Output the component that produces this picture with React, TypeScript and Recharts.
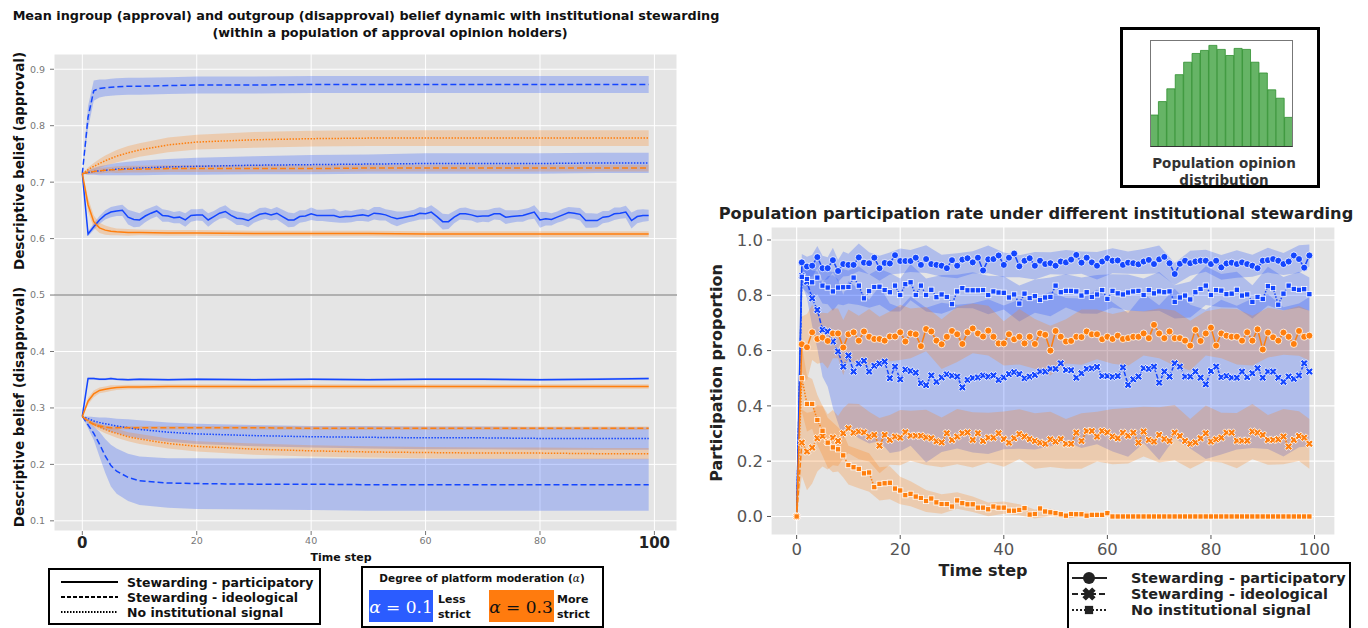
import React from 'react';
import { ComposedChart, Line, Area, XAxis, YAxis, CartesianGrid, ReferenceLine, BarChart, Bar } from 'recharts';

const BLUE = '#1446ff';
const ORANGE = '#ff7f0e';
const FONT = '"DejaVu Sans", Verdana, sans-serif';

// ---------- left panel: sampled time steps for the smooth curves ----------
const LEFT_STEPS = [0, 1, 2, 3, 4, 5, 6, 8, 10, 15, 20, 30, 40, 50, 60, 70, 80, 90, 99];

const APP_IDEO_BLUE = [0.715, 0.815, 0.862, 0.866, 0.867, 0.868, 0.869, 0.870, 0.870, 0.871, 0.872, 0.872, 0.873, 0.873, 0.873, 0.873, 0.873, 0.873, 0.873];
const APP_IDEO_BLUE_CI = [0, 0.02, 0.018, 0.016, 0.015, 0.015, 0.015, 0.015, 0.015, 0.015, 0.015, 0.015, 0.015, 0.015, 0.015, 0.015, 0.015, 0.015, 0.015];
const APP_NONE_ORANGE = [0.715, 0.722, 0.728, 0.733, 0.738, 0.742, 0.746, 0.752, 0.757, 0.766, 0.771, 0.775, 0.777, 0.778, 0.778, 0.778, 0.778, 0.778, 0.778];
const APP_NONE_ORANGE_CI = [0, 0.004, 0.006, 0.008, 0.009, 0.010, 0.011, 0.012, 0.012, 0.013, 0.013, 0.014, 0.014, 0.014, 0.014, 0.014, 0.014, 0.014, 0.014];
const APP_NONE_BLUE = [0.715, 0.717, 0.719, 0.720, 0.721, 0.722, 0.723, 0.724, 0.725, 0.727, 0.728, 0.730, 0.731, 0.732, 0.733, 0.733, 0.733, 0.734, 0.734];
const APP_NONE_BLUE_CI = [0, 0.004, 0.006, 0.008, 0.009, 0.010, 0.011, 0.012, 0.013, 0.014, 0.015, 0.016, 0.017, 0.017, 0.018, 0.018, 0.018, 0.018, 0.018];
const APP_IDEO_ORANGE = [0.715, 0.717, 0.719, 0.720, 0.721, 0.722, 0.722, 0.723, 0.723, 0.724, 0.724, 0.724, 0.724, 0.725, 0.725, 0.725, 0.725, 0.725, 0.725];
const APP_IDEO_ORANGE_CI = [0, 0.003, 0.004, 0.005, 0.005, 0.005, 0.006, 0.006, 0.006, 0.006, 0.006, 0.006, 0.006, 0.006, 0.006, 0.006, 0.006, 0.006, 0.006];
const APP_PART_ORANGE = [0.715, 0.660, 0.630, 0.619, 0.615, 0.613, 0.612, 0.611, 0.611, 0.610, 0.610, 0.609, 0.609, 0.609, 0.608, 0.608, 0.608, 0.608, 0.608];
const APP_PART_ORANGE_CI = [0, 0.012, 0.011, 0.009, 0.008, 0.007, 0.006, 0.006, 0.005, 0.005, 0.005, 0.005, 0.005, 0.005, 0.005, 0.005, 0.005, 0.005, 0.005];

const DIS_PART_BLUE = [0.285, 0.352, 0.352, 0.351, 0.351, 0.352, 0.351, 0.350, 0.351, 0.350, 0.351, 0.350, 0.351, 0.350, 0.351, 0.351, 0.350, 0.351, 0.352];
const DIS_PART_BLUE_CI = [0, 0.002, 0.002, 0.002, 0.002, 0.002, 0.002, 0.002, 0.002, 0.002, 0.002, 0.002, 0.002, 0.002, 0.002, 0.002, 0.002, 0.002, 0.002];
const DIS_PART_ORANGE = [0.285, 0.312, 0.325, 0.331, 0.333, 0.335, 0.336, 0.337, 0.337, 0.338, 0.338, 0.338, 0.338, 0.338, 0.338, 0.338, 0.338, 0.338, 0.338];
const DIS_PART_ORANGE_CI = [0, 0.006, 0.006, 0.005, 0.005, 0.005, 0.004, 0.004, 0.004, 0.004, 0.004, 0.004, 0.004, 0.004, 0.004, 0.004, 0.004, 0.004, 0.004];
const DIS_IDEO_ORANGE = [0.285, 0.276, 0.271, 0.268, 0.266, 0.265, 0.265, 0.265, 0.265, 0.265, 0.265, 0.265, 0.264, 0.264, 0.264, 0.264, 0.264, 0.264, 0.264];
const DIS_IDEO_ORANGE_CI = [0, 0.003, 0.003, 0.003, 0.003, 0.003, 0.003, 0.003, 0.003, 0.003, 0.003, 0.003, 0.003, 0.003, 0.003, 0.003, 0.003, 0.003, 0.003];
const DIS_NONE_BLUE = [0.285, 0.281, 0.277, 0.274, 0.272, 0.270, 0.268, 0.265, 0.262, 0.257, 0.254, 0.251, 0.249, 0.248, 0.247, 0.247, 0.246, 0.246, 0.246];
const DIS_NONE_BLUE_CI = [0, 0.004, 0.007, 0.009, 0.011, 0.012, 0.013, 0.015, 0.016, 0.017, 0.018, 0.019, 0.019, 0.020, 0.020, 0.020, 0.020, 0.020, 0.020];
const DIS_NONE_ORANGE = [0.285, 0.278, 0.271, 0.266, 0.262, 0.258, 0.255, 0.249, 0.245, 0.237, 0.232, 0.227, 0.224, 0.222, 0.221, 0.220, 0.220, 0.219, 0.219];
const DIS_NONE_ORANGE_CI = [0, 0.003, 0.005, 0.006, 0.007, 0.007, 0.008, 0.008, 0.009, 0.009, 0.009, 0.010, 0.010, 0.010, 0.010, 0.010, 0.010, 0.010, 0.010];
const DIS_IDEO_BLUE = [0.285, 0.270, 0.255, 0.236, 0.215, 0.198, 0.188, 0.177, 0.171, 0.167, 0.166, 0.165, 0.165, 0.164, 0.164, 0.164, 0.164, 0.164, 0.164];
const DIS_IDEO_BLUE_CI = [0, 0.006, 0.012, 0.022, 0.030, 0.037, 0.040, 0.042, 0.043, 0.044, 0.045, 0.045, 0.046, 0.046, 0.046, 0.046, 0.046, 0.046, 0.046];

// participatory, alpha 0.1, approval side (every step 0..99)
const APP_PART_BLUE = [
  0.715, 0.608, 0.621, 0.633, 0.642, 0.647, 0.649, 0.650, 0.638, 0.634,
  0.633, 0.640, 0.645, 0.649, 0.641, 0.640, 0.637, 0.638, 0.633, 0.641,
  0.642, 0.642, 0.633, 0.639, 0.645, 0.648, 0.641, 0.636, 0.635, 0.632,
  0.638, 0.643, 0.645, 0.642, 0.645, 0.639, 0.633, 0.633, 0.639, 0.640,
  0.644, 0.641, 0.641, 0.641, 0.641, 0.638, 0.639, 0.639, 0.641, 0.642,
  0.640, 0.645, 0.644, 0.642, 0.638, 0.635, 0.637, 0.639, 0.641, 0.645,
  0.644, 0.647, 0.639, 0.630, 0.630, 0.638, 0.644, 0.644, 0.642, 0.639,
  0.640, 0.640, 0.644, 0.644, 0.638, 0.639, 0.640, 0.641, 0.644, 0.647,
  0.633, 0.635, 0.634, 0.638, 0.642, 0.646, 0.645, 0.643, 0.632, 0.632,
  0.632, 0.638, 0.639, 0.644, 0.645, 0.647, 0.632, 0.639, 0.641, 0.641,
];
const APP_PART_BLUE_CI = [
  0, 0.004, 0.006, 0.007, 0.008, 0.009, 0.009, 0.01, 0.013, 0.014, 0.012, 0.011, 0.01, 0.01, 0.011, 0.01, 0.01, 0.011, 0.012, 0.011,
  0.01, 0.011, 0.012, 0.01, 0.01, 0.011, 0.01, 0.012, 0.011, 0.012, 0.01, 0.011, 0.01, 0.01, 0.011, 0.012, 0.013, 0.012, 0.011, 0.01,
  0.011, 0.01, 0.01, 0.011, 0.012, 0.01, 0.011, 0.01, 0.01, 0.011, 0.01, 0.011, 0.012, 0.01, 0.012, 0.013, 0.011, 0.01, 0.01, 0.011,
  0.01, 0.012, 0.013, 0.014, 0.013, 0.011, 0.01, 0.011, 0.01, 0.011, 0.01, 0.011, 0.01, 0.011, 0.012, 0.011, 0.01, 0.011, 0.01, 0.012,
  0.014, 0.012, 0.011, 0.01, 0.011, 0.01, 0.01, 0.011, 0.013, 0.013, 0.012, 0.011, 0.01, 0.011, 0.01, 0.011, 0.014, 0.012, 0.011, 0.01,
];

// ---------- right panel: participation proportion, every step 0..99 ----------
const PART_BLUE = [
  0, 0.919, 0.904, 0.907, 0.938, 0.898, 0.898, 0.927, 0.888, 0.913,
  0.910, 0.910, 0.937, 0.918, 0.916, 0.936, 0.898, 0.917, 0.915, 0.945,
  0.924, 0.924, 0.924, 0.936, 0.910, 0.931, 0.913, 0.910, 0.907, 0.898,
  0.927, 0.907, 0.929, 0.934, 0.919, 0.936, 0.890, 0.930, 0.931, 0.944,
  0.910, 0.936, 0.951, 0.905, 0.925, 0.934, 0.907, 0.925, 0.913, 0.916,
  0.907, 0.922, 0.919, 0.929, 0.946, 0.918, 0.936, 0.919, 0.907, 0.922,
  0.934, 0.925, 0.926, 0.910, 0.918, 0.916, 0.912, 0.922, 0.928, 0.913,
  0.930, 0.939, 0.916, 0.877, 0.914, 0.925, 0.916, 0.922, 0.925, 0.925,
  0.913, 0.925, 0.901, 0.915, 0.918, 0.913, 0.919, 0.913, 0.907, 0.898,
  0.925, 0.927, 0.931, 0.925, 0.913, 0.922, 0.944, 0.931, 0.900, 0.944,
];
const NONE_BLUE = [
  0, 0.867, 0.859, 0.847, 0.864, 0.835, 0.828, 0.814, 0.828, 0.829,
  0.830, 0.864, 0.835, 0.789, 0.815, 0.830, 0.831, 0.819, 0.811, 0.835,
  0.801, 0.840, 0.847, 0.801, 0.835, 0.801, 0.820, 0.793, 0.803, 0.794,
  0.768, 0.814, 0.826, 0.818, 0.818, 0.818, 0.819, 0.801, 0.814, 0.810,
  0.809, 0.792, 0.803, 0.770, 0.806, 0.790, 0.797, 0.783, 0.792, 0.794,
  0.835, 0.811, 0.816, 0.816, 0.814, 0.799, 0.811, 0.794, 0.803, 0.819,
  0.787, 0.816, 0.807, 0.803, 0.810, 0.814, 0.816, 0.801, 0.819, 0.807,
  0.814, 0.811, 0.814, 0.776, 0.792, 0.799, 0.785, 0.811, 0.823, 0.835,
  0.801, 0.819, 0.817, 0.804, 0.806, 0.820, 0.799, 0.803, 0.776, 0.794,
  0.787, 0.833, 0.826, 0.766, 0.806, 0.835, 0.823, 0.820, 0.822, 0.804,
];
const IDEO_BLUE = [
  0, 0.870, 0.849, 0.789, 0.747, 0.675, 0.669, 0.633, 0.597, 0.542,
  0.582, 0.524, 0.553, 0.563, 0.524, 0.545, 0.553, 0.560, 0.500, 0.542,
  0.496, 0.531, 0.526, 0.520, 0.482, 0.475, 0.510, 0.487, 0.503, 0.514,
  0.509, 0.506, 0.467, 0.494, 0.501, 0.503, 0.510, 0.506, 0.510, 0.494,
  0.503, 0.515, 0.522, 0.515, 0.500, 0.506, 0.512, 0.524, 0.524, 0.534,
  0.534, 0.554, 0.530, 0.529, 0.502, 0.518, 0.534, 0.536, 0.541, 0.508,
  0.508, 0.505, 0.508, 0.539, 0.476, 0.496, 0.506, 0.536, 0.534, 0.542,
  0.484, 0.524, 0.506, 0.554, 0.542, 0.506, 0.506, 0.524, 0.502, 0.478,
  0.526, 0.542, 0.504, 0.508, 0.502, 0.502, 0.524, 0.504, 0.518, 0.536,
  0.502, 0.524, 0.524, 0.502, 0.487, 0.506, 0.498, 0.510, 0.554, 0.524,
];
const PART_ORANGE = [
  0, 0.623, 0.612, 0.666, 0.642, 0.647, 0.635, 0.662, 0.662, 0.611,
  0.659, 0.666, 0.636, 0.669, 0.650, 0.642, 0.642, 0.636, 0.651, 0.651,
  0.666, 0.633, 0.662, 0.659, 0.616, 0.678, 0.669, 0.636, 0.623, 0.650,
  0.671, 0.659, 0.624, 0.666, 0.680, 0.662, 0.651, 0.672, 0.650, 0.626,
  0.626, 0.659, 0.641, 0.650, 0.626, 0.650, 0.624, 0.662, 0.657, 0.600,
  0.671, 0.650, 0.633, 0.635, 0.650, 0.649, 0.669, 0.659, 0.659, 0.641,
  0.650, 0.642, 0.654, 0.642, 0.645, 0.650, 0.650, 0.662, 0.645, 0.693,
  0.662, 0.645, 0.669, 0.645, 0.645, 0.636, 0.618, 0.675, 0.635, 0.662,
  0.683, 0.618, 0.662, 0.654, 0.650, 0.650, 0.636, 0.666, 0.636, 0.677,
  0.604, 0.665, 0.648, 0.636, 0.665, 0.650, 0.624, 0.671, 0.650, 0.654,
];
const IDEO_ORANGE = [
  0, 0.267, 0.235, 0.249, 0.283, 0.291, 0.270, 0.285, 0.273, 0.301,
  0.319, 0.303, 0.307, 0.304, 0.289, 0.295, 0.256, 0.295, 0.277, 0.289,
  0.285, 0.305, 0.292, 0.292, 0.292, 0.286, 0.283, 0.272, 0.268, 0.301,
  0.277, 0.289, 0.301, 0.304, 0.277, 0.301, 0.273, 0.285, 0.285, 0.301,
  0.280, 0.267, 0.283, 0.298, 0.289, 0.280, 0.273, 0.267, 0.263, 0.279,
  0.271, 0.280, 0.263, 0.263, 0.303, 0.273, 0.309, 0.309, 0.289, 0.309,
  0.304, 0.289, 0.283, 0.303, 0.292, 0.303, 0.267, 0.307, 0.277, 0.271,
  0.295, 0.280, 0.273, 0.303, 0.291, 0.273, 0.263, 0.268, 0.283, 0.301,
  0.271, 0.279, 0.285, 0.303, 0.303, 0.274, 0.274, 0.274, 0.307, 0.303,
  0.295, 0.277, 0.277, 0.279, 0.289, 0.253, 0.277, 0.291, 0.285, 0.263,
];
const NONE_ORANGE = [
  0, 0.500, 0.407, 0.407, 0.349, 0.310, 0.267, 0.250, 0.243, 0.221,
  0.186, 0.178, 0.172, 0.156, 0.159, 0.106, 0.118, 0.120, 0.122, 0.101,
  0.094, 0.077, 0.082, 0.072, 0.067, 0.056, 0.065, 0.051, 0.045, 0.045,
  0.036, 0.058, 0.048, 0.044, 0.044, 0.032, 0.032, 0.026, 0.036, 0.032,
  0.032, 0.021, 0.021, 0.024, 0.030, 0.007, 0.009, 0.029, 0.018, 0.015,
  0.012, 0.008, 0.003, 0.009, 0.008, 0.008, 0.003, 0.006, 0.006, 0.006,
  0.012, 0, 0, 0, 0, 0, 0, 0, 0, 0,
  0, 0, 0, 0, 0, 0, 0, 0, 0, 0,
  0, 0, 0, 0, 0, 0, 0, 0, 0, 0,
  0, 0, 0, 0, 0, 0, 0, 0, 0, 0,
];

// confidence half-widths, read at these steps
const BAND_STEPS = [0, 1, 2, 3, 4, 5, 6, 7, 8, 9, 10, 12, 14, 16, 18, 20, 22, 25, 28, 31, 34, 37, 40, 43, 46, 49, 52, 55, 58, 61, 64, 67, 70, 73, 76, 79, 82, 85, 88, 91, 94, 97, 99];
const PART_BLUE_CI = [0, 0.03, 0.035, 0.04, 0.04, 0.045, 0.04, 0.045, 0.04, 0.045, 0.04, 0.05, 0.04, 0.045, 0.04, 0.045, 0.04, 0.05, 0.04, 0.045, 0.04, 0.05, 0.045, 0.04, 0.05, 0.04, 0.045, 0.04, 0.05, 0.045, 0.04, 0.045, 0.05, 0.04, 0.045, 0.04, 0.045, 0.05, 0.04, 0.045, 0.04, 0.05, 0.04];
const NONE_BLUE_CI = [0, 0.04, 0.05, 0.06, 0.06, 0.065, 0.06, 0.07, 0.06, 0.065, 0.06, 0.07, 0.06, 0.065, 0.07, 0.06, 0.065, 0.06, 0.07, 0.06, 0.065, 0.07, 0.06, 0.065, 0.06, 0.07, 0.06, 0.065, 0.07, 0.06, 0.065, 0.06, 0.07, 0.06, 0.065, 0.07, 0.06, 0.065, 0.06, 0.07, 0.06, 0.065, 0.06];
const IDEO_BLUE_CI = [0, 0.03, 0.06, 0.1, 0.14, 0.17, 0.2, 0.24, 0.26, 0.26, 0.27, 0.27, 0.26, 0.28, 0.27, 0.26, 0.27, 0.28, 0.27, 0.26, 0.27, 0.28, 0.26, 0.27, 0.27, 0.28, 0.26, 0.27, 0.28, 0.27, 0.26, 0.27, 0.28, 0.27, 0.26, 0.27, 0.28, 0.26, 0.27, 0.28, 0.27, 0.26, 0.27];
const PART_ORANGE_CI = [0, 0.1, 0.12, 0.1, 0.09, 0.09, 0.1, 0.09, 0.09, 0.1, 0.09, 0.09, 0.1, 0.08, 0.09, 0.1, 0.09, 0.08, 0.09, 0.1, 0.09, 0.09, 0.08, 0.1, 0.09, 0.09, 0.08, 0.1, 0.09, 0.09, 0.1, 0.08, 0.09, 0.1, 0.09, 0.08, 0.09, 0.1, 0.09, 0.09, 0.08, 0.09, 0.09];
const IDEO_ORANGE_CI = [0, 0.12, 0.14, 0.13, 0.12, 0.11, 0.1, 0.1, 0.09, 0.09, 0.09, 0.1, 0.09, 0.1, 0.09, 0.1, 0.09, 0.1, 0.09, 0.1, 0.1, 0.09, 0.1, 0.09, 0.1, 0.1, 0.09, 0.1, 0.09, 0.1, 0.1, 0.09, 0.1, 0.1, 0.09, 0.1, 0.09, 0.1, 0.1, 0.09, 0.1, 0.09, 0.09];
const NONE_ORANGE_CI = [0, 0.12, 0.1, 0.09, 0.09, 0.09, 0.09, 0.09, 0.08, 0.08, 0.07, 0.07, 0.07, 0.06, 0.06, 0.05, 0.045, 0.04, 0.035, 0.03, 0.028, 0.025, 0.022, 0.02, 0.016, 0.013, 0.01, 0.01, 0.008, 0, 0, 0, 0, 0, 0, 0, 0, 0, 0, 0, 0, 0, 0];

// inset histogram of opinions
const HIST = [95, 135, 173, 215, 252, 278, 287, 302, 290, 272, 293, 290, 252, 220, 170, 145, 88];

const LEFT_Y_TICKS = [0.1, 0.2, 0.3, 0.4, 0.5, 0.6, 0.7, 0.8, 0.9];
const X_TICKS = [0, 20, 40, 60, 80, 100];
const RIGHT_Y_TICKS = [0, 0.2, 0.4, 0.6, 0.8, 1.0];

const sparse = (vals: number[]) => LEFT_STEPS.map((t, i) => ({ t, v: vals[i] }));
const sparseBand = (vals: number[], ci: number[]) => LEFT_STEPS.map((t, i) => ({ t, r: [vals[i] - ci[i], vals[i] + ci[i]] }));
const full = (vals: number[]) => vals.map((v, t) => ({ t, v }));
const fullBand = (vals: number[], ci: number[]) => vals.map((v, t) => ({ t, r: [v - ci[t], v + ci[t]] }));
const rBand = (vals: number[], ci: number[]) => BAND_STEPS.map((t, i) => ({ t, r: [vals[t] - ci[i], vals[t] + ci[i]] }));

const SOLID = undefined;
const DASH = '6 3';
const DOT = '1.5 1.5';

const LEFT_SERIES = [
  { line: full(APP_PART_BLUE), band: fullBand(APP_PART_BLUE, APP_PART_BLUE_CI), c: BLUE, dash: SOLID },
  { line: sparse(APP_IDEO_BLUE), band: sparseBand(APP_IDEO_BLUE, APP_IDEO_BLUE_CI), c: BLUE, dash: DASH },
  { line: sparse(APP_NONE_BLUE), band: sparseBand(APP_NONE_BLUE, APP_NONE_BLUE_CI), c: BLUE, dash: DOT },
  { line: sparse(DIS_PART_BLUE), band: sparseBand(DIS_PART_BLUE, DIS_PART_BLUE_CI), c: BLUE, dash: SOLID },
  { line: sparse(DIS_IDEO_BLUE), band: sparseBand(DIS_IDEO_BLUE, DIS_IDEO_BLUE_CI), c: BLUE, dash: DASH },
  { line: sparse(DIS_NONE_BLUE), band: sparseBand(DIS_NONE_BLUE, DIS_NONE_BLUE_CI), c: BLUE, dash: DOT },
  { line: sparse(APP_PART_ORANGE), band: sparseBand(APP_PART_ORANGE, APP_PART_ORANGE_CI), c: ORANGE, dash: SOLID },
  { line: sparse(APP_IDEO_ORANGE), band: sparseBand(APP_IDEO_ORANGE, APP_IDEO_ORANGE_CI), c: ORANGE, dash: DASH },
  { line: sparse(APP_NONE_ORANGE), band: sparseBand(APP_NONE_ORANGE, APP_NONE_ORANGE_CI), c: ORANGE, dash: DOT },
  { line: sparse(DIS_PART_ORANGE), band: sparseBand(DIS_PART_ORANGE, DIS_PART_ORANGE_CI), c: ORANGE, dash: SOLID },
  { line: sparse(DIS_IDEO_ORANGE), band: sparseBand(DIS_IDEO_ORANGE, DIS_IDEO_ORANGE_CI), c: ORANGE, dash: DASH },
  { line: sparse(DIS_NONE_ORANGE), band: sparseBand(DIS_NONE_ORANGE, DIS_NONE_ORANGE_CI), c: ORANGE, dash: DOT },
];

const X_PATH = 'M-0.35,-1H0.35V-0.35H1V0.35H0.35V1H-0.35V0.35H-1V-0.35H-0.35Z';

const Marker = ({ kind, cx, cy, fill, stroke, sw, size }: any) => {
  if (kind === 'circle') return <circle cx={cx} cy={cy} r={size} fill={fill} stroke={stroke} strokeWidth={sw} />;
  if (kind === 'square') return <rect x={cx - size * 0.75} y={cy - size * 0.75} width={size * 1.5} height={size * 1.5} fill={fill} stroke={stroke} strokeWidth={sw} />;
  return <path transform={`translate(${cx},${cy}) rotate(45) scale(${size * 1.15})`} d={X_PATH} fill={fill} stroke={stroke} strokeWidth={sw / (size * 1.15)} />;
};

const dotFor = (kind: string, color: string) => (p: any) => {
  if (p.cx == null || p.cy == null) return <g key={`n${p.index}`} />;
  return <Marker key={`${kind}${p.index}`} kind={kind} cx={p.cx} cy={p.cy} fill={color} stroke="#fff" sw={0.8} size={3.5} />;
};

const RIGHT_SERIES = [
  { vals: PART_BLUE, ci: PART_BLUE_CI, c: BLUE, dash: SOLID, kind: 'circle' },
  { vals: IDEO_BLUE, ci: IDEO_BLUE_CI, c: BLUE, dash: '5 2', kind: 'x' },
  { vals: NONE_BLUE, ci: NONE_BLUE_CI, c: BLUE, dash: DOT, kind: 'square' },
  { vals: PART_ORANGE, ci: PART_ORANGE_CI, c: ORANGE, dash: SOLID, kind: 'circle' },
  { vals: IDEO_ORANGE, ci: IDEO_ORANGE_CI, c: ORANGE, dash: '5 2', kind: 'x' },
  { vals: NONE_ORANGE, ci: NONE_ORANGE_CI, c: ORANGE, dash: DOT, kind: 'square' },
];

const LeftXTick = (props: any) => {
  const { x, y, payload } = props;
  const big = payload.value === 0 || payload.value === 100;
  return (
    <text x={x} y={y} dy="0.71em" textAnchor="middle" fontFamily={FONT}
      fontSize={big ? 15 : 9.5} fontWeight={big ? 'bold' : 'normal'} fill={big ? '#222' : '#777'}>
      {payload.value}
    </text>
  );
};

function LeftChart() {
  return (
    <div style={{ position: 'absolute', left: 0, top: 0 }}>
      <ComposedChart width={700} height={560} margin={{ top: 54, right: 23, left: 0, bottom: 0 }}>
        <CartesianGrid fill="#e5e5e5" fillOpacity={1} stroke="#fff" strokeWidth={1} />
        <XAxis type="number" dataKey="t" domain={[-4.95, 103.95]} ticks={X_TICKS} allowDataOverflow interval={0}
          axisLine={false} tickLine={{ stroke: '#777' }} tickSize={4} tickMargin={2} height={29} tick={<LeftXTick />} />
        <YAxis type="number" domain={[0.082, 0.927]} ticks={LEFT_Y_TICKS} allowDataOverflow interval={0}
          axisLine={false} width={54} tickSize={4} tickMargin={5} tickLine={{ stroke: '#777' }}
          tick={{ fontSize: 9.5, fill: '#777', fontFamily: FONT }} tickFormatter={(v: number) => v.toFixed(1)} />
        <ReferenceLine y={0.5} stroke="#9a9a9a" strokeWidth={1.5} />
        {LEFT_SERIES.map((s, i) => (
          <Area key={`b${i}`} data={s.band} dataKey="r" type="linear" stroke="none" fill={s.c} fillOpacity={0.25} isAnimationActive={false} />
        ))}
        {LEFT_SERIES.map((s, i) => (
          <Line key={`l${i}`} data={s.line} dataKey="v" type="linear" stroke={s.c} strokeWidth={1.5}
            strokeDasharray={s.dash} dot={false} activeDot={false} isAnimationActive={false} />
        ))}
      </ComposedChart>
    </div>
  );
}

function RightChart() {
  return (
    <div style={{ position: 'absolute', left: 700, top: 200 }}>
      <ComposedChart width={660} height={390} margin={{ top: 27, right: 25, left: 0, bottom: 25 }}>
        <CartesianGrid fill="#e5e5e5" fillOpacity={1} stroke="#fff" strokeWidth={1.2} />
        <XAxis type="number" dataKey="t" domain={[-4.95, 103.95]} ticks={X_TICKS} allowDataOverflow interval={0}
          axisLine={false} tickLine={{ stroke: '#555' }} tickSize={4} tickMargin={4} height={30}
          tick={{ fontSize: 16.5, fill: '#555', fontFamily: FONT }} />
        <YAxis type="number" domain={[-0.067, 1.047]} ticks={RIGHT_Y_TICKS} allowDataOverflow interval={0}
          axisLine={false} width={71} tickSize={4} tickMargin={4} tickLine={{ stroke: '#555' }}
          tick={{ fontSize: 16.5, fill: '#555', fontFamily: FONT }} tickFormatter={(v: number) => v.toFixed(1)} />
        {RIGHT_SERIES.map((s, i) => (
          <Area key={`b${i}`} data={rBand(s.vals, s.ci)} dataKey="r" type="linear" stroke="none" fill={s.c} fillOpacity={0.25} isAnimationActive={false} />
        ))}
        {RIGHT_SERIES.map((s, i) => (
          <Line key={`l${i}`} data={full(s.vals)} dataKey="v" type="linear" stroke={s.c} strokeWidth={1.5}
            strokeDasharray={s.dash} dot={dotFor(s.kind, s.c)} activeDot={false} isAnimationActive={false} />
        ))}
      </ComposedChart>
    </div>
  );
}

function Inset() {
  const data = HIST.map((n, i) => ({ bin: i, n }));
  return (
    <>
      <div style={{ position: 'absolute', left: 1120, top: 27, width: 200, height: 161, border: '3px solid #000', boxSizing: 'border-box', background: '#fff' }} />
      <div style={{ position: 'absolute', left: 1150, top: 40 }}>
        <BarChart width={143} height={107} data={data} margin={{ top: 0, right: 0, left: 0, bottom: 0 }} barCategoryGap={0}>
          <XAxis dataKey="bin" hide />
          <YAxis hide domain={[0, 318]} />
          <Bar dataKey="n" fill="#66b466" stroke="#2e8f2e" strokeWidth={0.8} isAnimationActive={false} />
        </BarChart>
      </div>
      <div style={{ position: 'absolute', left: 1150, top: 40, width: 143, height: 107, border: '1px solid #777', borderBottom: '1px solid #333', boxSizing: 'border-box' }} />
    </>
  );
}

function Overlay() {
  const lg = { fontFamily: FONT, fontWeight: 'bold' as const, fill: '#111' };
  return (
    <svg width={1368} height={628} style={{ position: 'absolute', left: 0, top: 0, pointerEvents: 'none' }}>
      {/* left titles */}
      <text x={366} y={20} textAnchor="middle" fontSize={12.8} {...lg}>
        Mean ingroup (approval) and outgroup (disapproval) belief dynamic with institutional stewarding
      </text>
      <text x={390} y={37} textAnchor="middle" fontSize={12.8} {...lg}>
        (within a population of approval opinion holders)
      </text>
      <text transform="translate(19,161) rotate(-90)" textAnchor="middle" dominantBaseline="central" fontSize={13.5} {...lg}>
        Descriptive belief (approval)
      </text>
      <text transform="translate(19,407) rotate(-90)" textAnchor="middle" dominantBaseline="central" fontSize={13.5} {...lg}>
        Descriptive belief (disapproval)
      </text>
      <text x={341} y={557} textAnchor="middle" dominantBaseline="central" fontSize={11} {...lg}>Time step</text>

      {/* right titles */}
      <text x={1036} y={213} textAnchor="middle" dominantBaseline="central" fontSize={16.2} {...lg} fill="#222">
        Population participation rate under different institutional stewarding
      </text>
      <text transform="translate(716,373) rotate(-90)" textAnchor="middle" dominantBaseline="central" fontSize={16} {...lg} fill="#222">
        Participation proportion
      </text>
      <text x={983} y={570} textAnchor="middle" dominantBaseline="central" fontSize={16} {...lg} fill="#222">Time step</text>

      {/* inset caption */}
      <text x={1224} y={163} textAnchor="middle" dominantBaseline="central" fontSize={13.5} {...lg} fill="#333">Population opinion</text>
      <text x={1224} y={180} textAnchor="middle" dominantBaseline="central" fontSize={13.5} {...lg} fill="#333">distribution</text>

      {/* line-style legend (left) */}
      <rect x={49} y={569} width={271} height={55} fill="#fff" stroke="#000" strokeWidth={2} />
      <line x1={61} x2={118} y1={582} y2={582} stroke="#000" strokeWidth={2} />
      <line x1={61} x2={118} y1={597} y2={597} stroke="#000" strokeWidth={2} strokeDasharray="4 2" />
      <line x1={61} x2={118} y1={612} y2={612} stroke="#000" strokeWidth={2} strokeDasharray="1.5 1.5" />
      <text x={127} y={582} dominantBaseline="central" fontSize={12.5} {...lg}>Stewarding - participatory</text>
      <text x={127} y={597} dominantBaseline="central" fontSize={12.5} {...lg}>Stewarding - ideological</text>
      <text x={127} y={612} dominantBaseline="central" fontSize={12.5} {...lg}>No institutional signal</text>

      {/* moderation legend */}
      <rect x={362} y={567} width={241} height={60} fill="#fff" stroke="#000" strokeWidth={2} />
      <text x={482} y={578} textAnchor="middle" dominantBaseline="central" fontSize={10.5} {...lg}>
        Degree of platform moderation (<tspan fontFamily='"DejaVu Serif", serif' fontStyle="italic" fontWeight="normal">α</tspan>)
      </text>
      <rect x={369} y={590} width={64} height={32} fill="#2b5cff" />
      <text x={401} y={607} textAnchor="middle" dominantBaseline="central" fontSize={17} fontFamily='"DejaVu Serif", serif' fill="#fff">
        <tspan fontStyle="italic">α</tspan> = 0.1
      </text>
      <text x={438} y={599} dominantBaseline="central" fontSize={11} {...lg}>Less</text>
      <text x={438} y={614} dominantBaseline="central" fontSize={11} {...lg}>strict</text>
      <rect x={489} y={590} width={65} height={32} fill="#ff7b0e" />
      <text x={521} y={607} textAnchor="middle" dominantBaseline="central" fontSize={17} fontFamily='"DejaVu Serif", serif' fill="#111">
        <tspan fontStyle="italic">α</tspan> = 0.3
      </text>
      <text x={557} y={599} dominantBaseline="central" fontSize={11} {...lg}>More</text>
      <text x={557} y={614} dominantBaseline="central" fontSize={11} {...lg}>strict</text>

      {/* marker legend (right) */}
      <rect x={1068} y={563} width={282} height={66} fill="#fff" stroke="#000" strokeWidth={2} />
      <line x1={1072} x2={1107} y1={578} y2={578} stroke="#222" strokeWidth={2.2} />
      <Marker kind="circle" cx={1089} cy={578} fill="#222" stroke="#222" sw={0} size={6} />
      <line x1={1072} x2={1107} y1={594} y2={594} stroke="#222" strokeWidth={2.2} strokeDasharray="6 3" />
      <Marker kind="x" cx={1089} cy={594} fill="#222" stroke="#222" sw={0} size={6} />
      <line x1={1072} x2={1107} y1={610} y2={610} stroke="#222" strokeWidth={2.2} strokeDasharray="2 2" />
      <Marker kind="square" cx={1089} cy={610} fill="#222" stroke="#222" sw={0} size={5.5} />
      <text x={1131} y={578} dominantBaseline="central" fontSize={14.4} {...lg} fill="#222">Stewarding - participatory</text>
      <text x={1131} y={594} dominantBaseline="central" fontSize={14.4} {...lg} fill="#222">Stewarding - ideological</text>
      <text x={1131} y={610} dominantBaseline="central" fontSize={14.4} {...lg} fill="#222">No institutional signal</text>
    </svg>
  );
}

export default function App() {
  return (
    <div style={{ position: 'absolute', left: 0, top: 0, width: 1368, height: 628, background: '#fff', overflow: 'hidden', fontFamily: FONT }}>
      <LeftChart />
      <RightChart />
      <Inset />
      <Overlay />
    </div>
  );
}
